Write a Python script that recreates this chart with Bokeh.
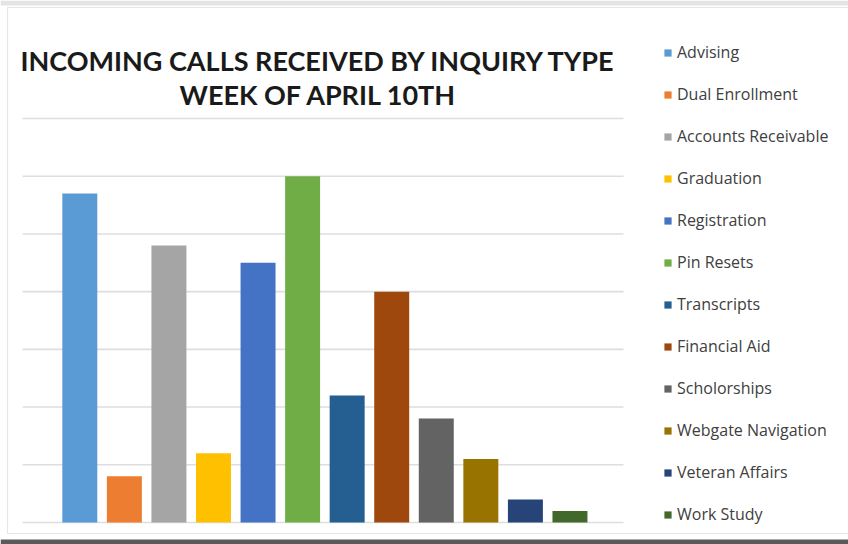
from bokeh.plotting import figure
from bokeh.models import ColumnDataSource, Range1d, Label
from bokeh.embed import file_html
from bokeh.resources import INLINE

# ---- data ----
categories = ["Advising", "Dual Enrollment", "Accounts Receivable", "Graduation",
              "Registration", "Pin Resets", "Transcripts", "Financial Aid",
              "Scholorships", "Webgate Navigation", "Veteran Affairs", "Work Study"]
calls = [57, 8, 48, 12, 45, 60, 22, 40, 18, 11, 4, 2]
colors = ["#5B9BD5", "#ED7D31", "#A5A5A5", "#FFC000", "#4472C4", "#70AD47",
          "#255E91", "#9E480E", "#636363", "#997300", "#264478", "#43682B"]
grid_ticks = [0, 10, 20, 30, 40, 50, 60, 70]
title_lines = ["INCOMING CALLS RECEIVED BY INQUIRY TYPE", "WEEK OF APRIL 10TH"]

# ---- layout (pixels) ----
W, H = 848, 544
X0_PX, DX_PX = 79.3, 44.56          # centre of first bar, bar spacing
Y0_PX = 522.0                        # baseline
K = (522.0 - 118.0) / 70.0           # pixels per unit


def px_x(px):
    return (px - X0_PX) / DX_PX


def px_y(py):
    return (Y0_PX - py) / K


p = figure(width=W, height=H, output_backend="svg", toolbar_location=None,
           x_axis_type=None, y_axis_type=None, min_border=0,
           x_range=Range1d(px_x(0), px_x(W)), y_range=Range1d(px_y(H), px_y(0)))
p.outline_line_color = None
p.grid.visible = False
p.background_fill_color = "white"
p.border_fill_color = "white"

# decorative frame of the screenshot
p.quad(left=px_x(0), right=px_x(W), top=px_y(0), bottom=px_y(5), color="#e4e4e4", line_color=None)
p.quad(left=px_x(0), right=px_x(W), top=px_y(539), bottom=px_y(H), color="#5a5a5a", line_color=None)
p.quad(left=px_x(7), right=px_x(W + 5), top=px_y(7), bottom=px_y(533),
       fill_color=None, line_color="#e6e6e6", line_width=1.2)

# gridlines
p.segment(x0=[px_x(22)] * len(grid_ticks), x1=[px_x(623)] * len(grid_ticks),
          y0=grid_ticks, y1=grid_ticks, line_color="#dedede", line_width=1.6)

src = ColumnDataSource(dict(x=list(range(len(categories))), top=calls,
                            color=colors, cat=categories))
p.vbar(x="x", top="top", bottom=0, width=0.785, fill_color="color",
       line_color=None, legend_field="cat", source=src)

# title
for txt, ypx in zip(title_lines, [60, 94]):
    p.add_layout(Label(x=px_x(318), y=px_y(ypx), text=txt, text_align="center",
                       text_baseline="alphabetic", text_font="Lato",
                       text_font_style="bold", text_font_size="27px",
                       text_color="#1a1a1a"))

lg = p.legend[0]
lg.location = (663, 19)
lg.padding = 0
lg.margin = 0
lg.border_line_color = None
lg.background_fill_alpha = 0
lg.glyph_width = 9
lg.glyph_height = 9
lg.label_height = 20
lg.spacing = 20
lg.label_standoff = 5
lg.label_text_font = "Open Sans"
lg.label_text_font_size = "16px"
lg.label_text_color = "#404040"

open("out.html", "w").write(file_html(p, INLINE))
